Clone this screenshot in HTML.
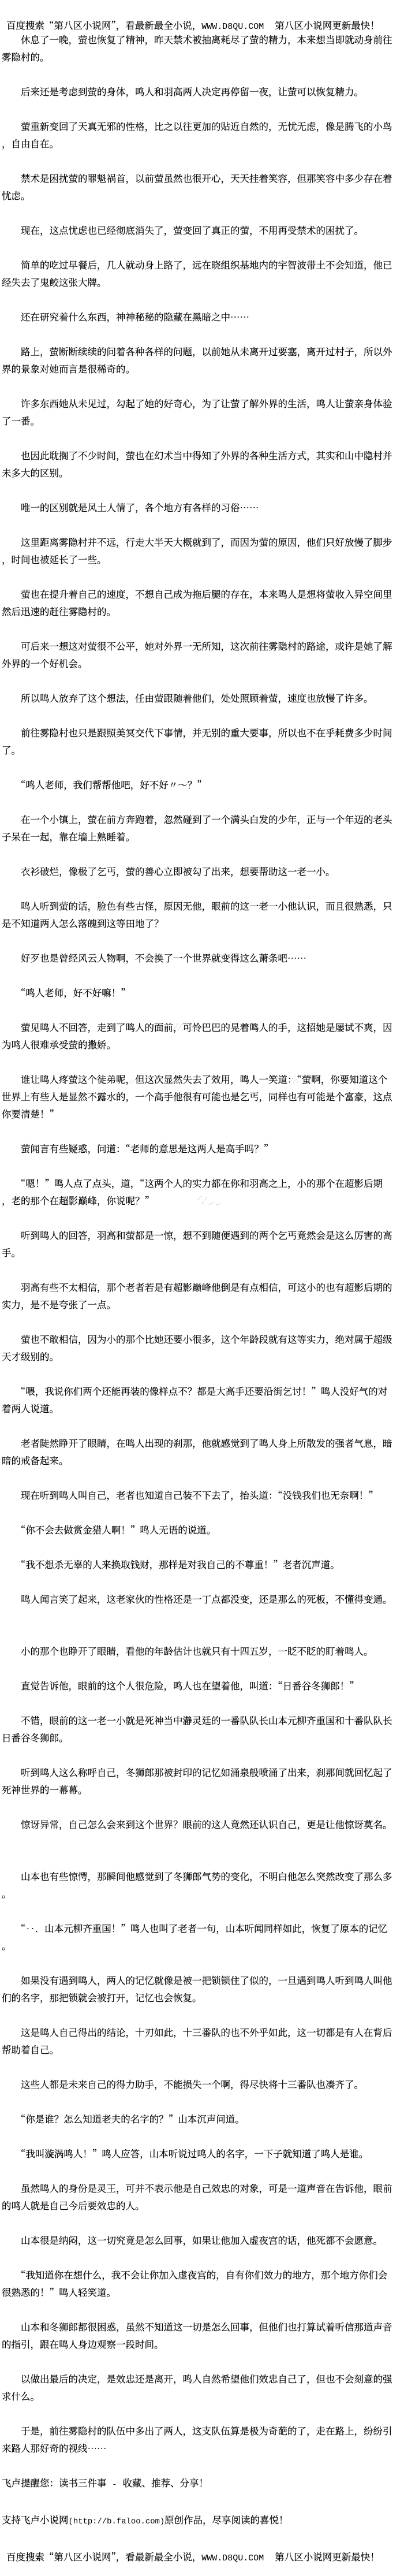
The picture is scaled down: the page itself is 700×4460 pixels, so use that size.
<!DOCTYPE html>
<html lang="zh-CN">
<head>
<meta charset="utf-8">
<title>第八区小说网</title>
<style>
html,body{margin:0;padding:0;background:#fff;}
body{width:700px;height:4460px;position:relative;overflow:hidden;color:#000;font-family:"Noto Serif CJK SC","Liberation Serif","Noto Sans CJK SC",serif;font-size:16.5px;-webkit-text-stroke:.2px #000;}
.t{position:absolute;left:3px;top:53px;width:697px;line-height:30px;white-space:pre;}
.h{position:absolute;left:11px;top:28px;line-height:30px;white-space:pre;}
.l{display:inline-block;white-space:pre;font-family:"Liberation Mono",monospace;vertical-align:baseline;-webkit-text-stroke:0;}
svg{position:absolute;left:0;top:0;}
</style>
</head>
<body>
<div class="h">百度搜索“第八区小说网”，看最新最全小说，<span class="l" style="width:127px;font-size:15px">WWW.D8QU.COM</span>第八区小说网更新最快！</div>
<div class="t">　　休息了一晚，萤也恢复了精神，昨天禁术被抽离耗尽了萤的精力，本来想当即就动身前往
雾隐村的。

　　后来还是考虑到萤的身体，鸣人和羽高两人决定再停留一夜，让萤可以恢复精力。

　　萤重新变回了天真无邪的性格，比之以往更加的贴近自然的，无忧无虑，像是腾飞的小鸟
，自由自在。

　　禁术是困扰萤的罪魁祸首，以前萤虽然也很开心，天天挂着笑容，但那笑容中多少存在着
忧虑。

　　现在，这点忧虑也已经彻底消失了，萤变回了真正的萤，不用再受禁术的困扰了。

　　简单的吃过早餐后，几人就动身上路了，远在晓组织基地内的宇智波带土不会知道，他已
经失去了鬼鲛这张大牌。

　　还在研究着什么东西，神神秘秘的隐藏在黑暗之中……

　　路上，萤断断续续的问着各种各样的问题，以前她从未离开过要塞，离开过村子，所以外
界的景象对她而言是很稀奇的。

　　许多东西她从未见过，勾起了她的好奇心，为了让萤了解外界的生活，鸣人让萤亲身体验
了一番。

　　也因此耽搁了不少时间，萤也在幻术当中得知了外界的各种生活方式，其实和山中隐村并
未多大的区别。

　　唯一的区别就是风土人情了，各个地方有各样的习俗……

　　这里距离雾隐村并不远，行走大半天大概就到了，而因为萤的原因，他们只好放慢了脚步
，时间也被延长了一些。

　　萤也在提升着自己的速度，不想自己成为拖后腿的存在，本来鸣人是想将萤收入异空间里
然后迅速的赶往雾隐村的。

　　可后来一想这对萤很不公平，她对外界一无所知，这次前往雾隐村的路途，或许是她了解
外界的一个好机会。

　　所以鸣人放弃了这个想法，任由萤跟随着他们，处处照顾着萤，速度也放慢了许多。

　　前往雾隐村也只是跟照美冥交代下事情，并无别的重大要事，所以也不在乎耗费多少时间
了。

　　“鸣人老师，我们帮帮他吧，好不好〃～？”

　　在一个小镇上，萤在前方奔跑着，忽然碰到了一个满头白发的少年，正与一个年迈的老头
子呆在一起，靠在墙上熟睡着。

　　衣衫破烂，像极了乞丐，萤的善心立即被勾了出来，想要帮助这一老一小。

　　鸣人听到萤的话，脸色有些古怪，原因无他，眼前的这一老一小他认识，而且很熟悉，只
是不知道两人怎么落魄到这等田地了？

　　好歹也是曾经风云人物啊，不会换了一个世界就变得这么萧条吧……

　　“鸣人老师，好不好嘛！”

　　萤见鸣人不回答，走到了鸣人的面前，可怜巴巴的晃着鸣人的手，这招她是屡试不爽，因
为鸣人很难承受萤的撒娇。

　　谁让鸣人疼萤这个徒弟呢，但这次显然失去了效用，鸣人一笑道：“萤啊，你要知道这个
世界上有些人是显然不露水的，一个高手他很有可能也是乞丐，同样也有可能是个富豪，这点
你要清楚！”

　　萤闻言有些疑惑，问道：“老师的意思是这两人是高手吗？”

　　“嗯！”鸣人点了点头，道，“这两个人的实力都在你和羽高之上，小的那个在超影后期
，老的那个在超影巅峰，你说呢？”

　　听到鸣人的回答，羽高和萤都是一惊，想不到随便遇到的两个乞丐竟然会是这么厉害的高
手。

　　羽高有些不太相信，那个老者若是有超影巅峰他倒是有点相信，可这小的也有超影后期的
实力，是不是夸张了一点。

　　萤也不敢相信，因为小的那个比她还要小很多，这个年龄段就有这等实力，绝对属于超级
天才级别的。

　　“喂，我说你们两个还能再装的像样点不？都是大高手还要沿街乞讨！”鸣人没好气的对
着两人说道。

　　老者陡然睁开了眼睛，在鸣人出现的刹那，他就感觉到了鸣人身上所散发的强者气息，暗
暗的戒备起来。

　　现在听到鸣人叫自己，老者也知道自己装不下去了，抬头道：“没钱我们也无奈啊！”

　　“你不会去做赏金猎人啊！”鸣人无语的说道。

　　“我不想杀无辜的人来换取钱财，那样是对我自己的不尊重！”老者沉声道。

　　鸣人闻言笑了起来，这老家伙的性格还是一丁点都没变，还是那么的死板，不懂得变通。


　　小的那个也睁开了眼睛，看他的年龄估计也就只有十四五岁，一眨不眨的盯着鸣人。

　　直觉告诉他，眼前的这个人很危险，鸣人也在望着他，叫道：“日番谷冬狮郎！”

　　不错，眼前的这一老一小就是死神当中瀞灵廷的一番队队长山本元柳齐重国和十番队队长
日番谷冬狮郎。

　　听到鸣人这么称呼自己，冬狮郎那被封印的记忆如涌泉般喷涌了出来，刹那间就回忆起了
死神世界的一幕幕。

　　惊讶异常，自己怎么会来到这个世界？眼前的这人竟然还认识自己，更是让他惊讶莫名。


　　山本也有些惊愕，那瞬间他感觉到了冬狮郎气势的变化，不明白他怎么突然改变了那么多
。

　　“‥．山本元柳齐重国！”鸣人也叫了老者一句，山本听闻同样如此，恢复了原本的记忆
。

　　如果没有遇到鸣人，两人的记忆就像是被一把锁锁住了似的，一旦遇到鸣人听到鸣人叫他
们的名字，那把锁就会被打开，记忆也会恢复。

　　这是鸣人自己得出的结论，十刃如此，十三番队的也不外乎如此，这一切都是有人在背后
帮助着自己。

　　这些人都是未来自己的得力助手，不能损失一个啊，得尽快将十三番队也凑齐了。

　　“你是谁？怎么知道老夫的名字的？”山本沉声问道。

　　“我叫漩涡鸣人！”鸣人应答，山本听说过鸣人的名字，一下子就知道了鸣人是谁。

　　虽然鸣人的身份是灵王，可并不表示他是自己效忠的对象，可是一道声音在告诉他，眼前
的鸣人就是自己今后要效忠的人。

　　山本很是纳闷，这一切究竟是怎么回事，如果让他加入虚夜宫的话，他死都不会愿意。

　　“我知道你在想什么，我不会让你加入虚夜宫的，自有你们效力的地方，那个地方你们会
很熟悉的！”鸣人轻笑道。

　　山本和冬狮郎都很困惑，虽然不知道这一切是怎么回事，但他们也打算试着听信那道声音
的指引，跟在鸣人身边观察一段时间。

　　以做出最后的决定，是效忠还是离开，鸣人自然希望他们效忠自己了，但也不会刻意的强
求什么。

　　于是，前往雾隐村的队伍中多出了两人，这支队伍算是极为奇葩的了，走在路上，纷纷引
来路人那好奇的视线……

飞卢提醒您：读书三件事<span class="l" style="width:28px;text-align:center;font-size:14px"> - </span>收藏、推荐、分享！

支持飞卢小说网<span class="l" style="width:166.5px;font-size:13.9px">(http://b.faloo.com)</span>原创作品，尽享阅读的喜悦！

<span style="margin-left:8px">百度搜索“第八区小说网”，看最新最全小说，<span class="l" style="width:127px;font-size:15px">WWW.D8QU.COM</span>第八区小说网更新最快！</span></div>
<svg width="700" height="4460" viewBox="0 0 700 4460" fill="none" stroke="#bbb" stroke-width="1" stroke-dasharray="2 2">
<path d="M300 1784l8-12M308 1784l8-12M316 1784l8-12M324 1784l8-12M332 1785l6-10"/>
<path d="M223 1877l5-7M228 1877l5-7"/>
<path d="M501 1875l6-8M508 1875l6-7M514 1875l4-4"/>
<path d="M252 1896l12-4M262 1902l14-8M276 1905l14-8"/>
<path d="M288 2056l10-12M300 2056l10-12M312 2056l10-10M322 2056l8-8"/>
<path d="M342 2078l8-8M350 2084l10-12M362 2086l10-6M374 2086l10-2"/>
</svg>
</body>
</html>
